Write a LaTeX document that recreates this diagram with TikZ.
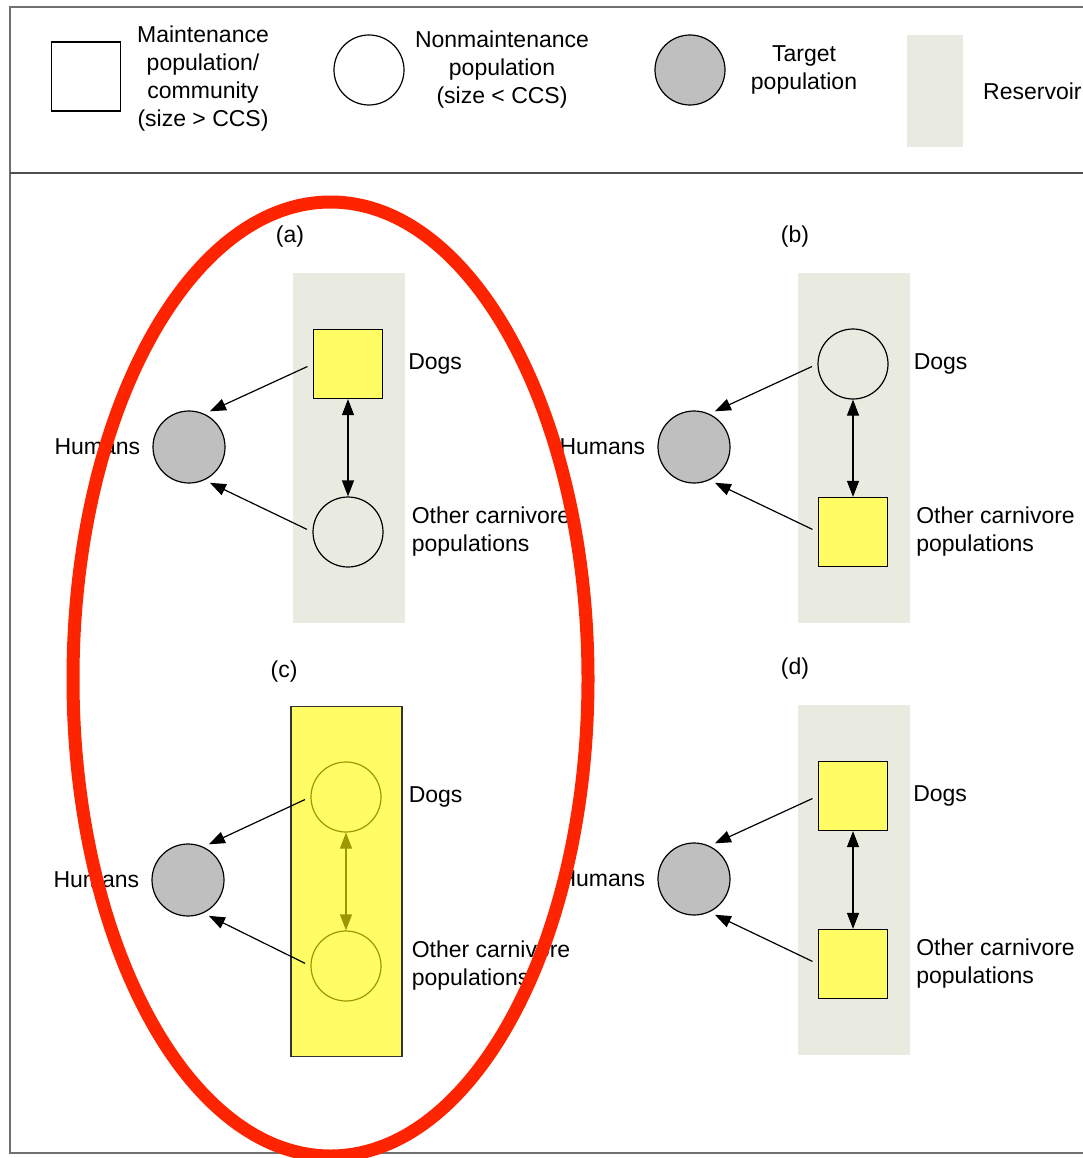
\documentclass[tikz,border=0pt]{standalone}
\usepackage{fontspec}
\setmainfont{Liberation Sans}
\usepackage{xcolor}
\usepackage{tikz}
\usetikzlibrary{arrows.meta, positioning}
\definecolor{resvcolor}{RGB}{234,235,224}
\definecolor{maintcolor}{RGB}{255,252,100}
\definecolor{tgtcolor}{RGB}{191,191,191}
\definecolor{olivecolor}{RGB}{158,152,0}
\definecolor{ringcolor}{RGB}{255,36,0}
\definecolor{framecolor}{RGB}{112,112,112}

\begin{document}
\begin{tikzpicture}[x=1pt, y=-1pt,
    every node/.style={font=\fontsize{23}{28}\selectfont},
    pop/.style={draw, line width=1.2pt, inner sep=0pt},
    maint/.style={pop, rectangle, minimum size=69pt, fill=maintcolor},
    nonmaint/.style={pop, circle, minimum size=70pt},
    target/.style={pop, circle, minimum size=72pt, fill=tgtcolor},
    resv/.style={rectangle, fill=resvcolor, inner sep=0pt},
    lbl/.style={inner sep=0pt, align=left},
    arr/.style={-{Triangle[length=16pt, width=12pt]}, line width=1.2pt, shorten <=6pt, shorten >=6pt},
    link/.style={{Triangle[length=16pt, width=12pt]}-{Triangle[length=16pt, width=12pt]}, line width=1.2pt},
]
    \useasboundingbox (0,0) rectangle (1083,1158);
    \fill[white] (0,0) rectangle (1083,1158);

    % key
    \node[maint, fill=white] (keymaint) at (86,76.5) {};
    \node[align=center] (keymainttxt) at (203,79) {Maintenance\\population/\\community\\(size > CCS)};
    \node[nonmaint] (keynon) at (369,70) {};
    \node[align=center] (keynontxt) at (502,70) {Nonmaintenance\\population\\(size < CCS)};
    \node[target, minimum size=70pt] (keytgt) at (690,70) {};
    \node[align=center] (keytgttxt) at (804,70) {Target\\population};
    \node[resv, minimum width=56pt, minimum height=112pt] (keyres) at (935,91) {};
    \node[lbl, anchor=west] (keyrestxt) at (983,91) {Reservoir};

    % panels a, b, d
    \foreach \ox/\oy/\p/\ds/\os in {0/0/a/maint/nonmaint, 505/0/b/nonmaint/maint, 505/432/d/maint/maint} {
        \node (cap\p) at (290+\ox, 237+\oy) {(\p)};
        \node[resv, minimum width=112pt, minimum height=350pt] (res\p) at (349+\ox, 448+\oy) {};
        \node[\ds] (dogs\p) at (348+\ox, 364+\oy) {};
        \node[\os] (oth\p) at (348+\ox, 532+\oy) {};
        \node[target] (hum\p) at (189+\ox, 447+\oy) {};
        \node[lbl, right=25pt of dogs\p] (tdogs\p) {Dogs};
        \node[lbl, right=28pt of oth\p] (toth\p) {Other carnivore\\populations};
        \node[lbl, left=12pt of hum\p] (thum\p) {Humans};
        \draw[arr] (dogs\p.west) -- (hum\p.65);
        \draw[arr] (oth\p.west) -- (hum\p.-65);
        \draw[link] (dogs\p.south) -- (oth\p.north);
    }

    % panel c
    \node (capc) at (284,672) {(c)};
    \node[resv, fill=maintcolor, draw=black!80, line width=1.2pt, minimum width=111pt, minimum height=350pt] (resc) at (346.5,881.5) {};
    \node[nonmaint, draw=olivecolor] (dogsc) at (346,797) {};
    \node[nonmaint, draw=olivecolor] (othc) at (346,966) {};
    \node[target] (humc) at (188,880) {};
    \node[lbl, right=27pt of dogsc] (tdogsc) {Dogs};
    \node[lbl, right=30pt of othc] (tothc) {Other carnivore\\populations};
    \node[lbl, left=12pt of humc] (thumc) {Humans};
    \draw[arr] (dogsc.west) -- (humc.65);
    \draw[arr] (othc.west) -- (humc.-65);
    \draw[link, olivecolor] (dogsc.south) -- (othc.north);

    % frame
    \draw[framecolor, line width=2pt] (1083,7.5) -- (10,7.5) -- (10,1153) -- (1083,1153);
    \draw[framecolor!70!black, line width=2pt] (10,173) -- (1083,173);

    % highlight
    \draw[ringcolor, line width=13pt] (330.5,679) ellipse [x radius=257.5pt, y radius=477pt];
\end{tikzpicture}
\end{document}
